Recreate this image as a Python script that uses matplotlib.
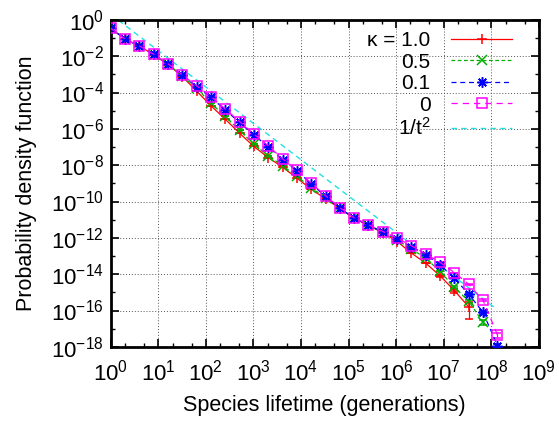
"""Species lifetime distribution for several kappa values, log-log."""
import numpy as np
import matplotlib
matplotlib.use('Agg')
import matplotlib.pyplot as plt
from matplotlib.ticker import LogLocator, FixedLocator, NullFormatter

plt.rcParams['font.family'] = ['Liberation Sans', 'DejaVu Sans']
plt.rcParams['mathtext.fontset'] = 'custom'
plt.rcParams['mathtext.rm'] = 'Liberation Sans'
plt.rcParams['mathtext.it'] = 'Liberation Sans:italic'
plt.rcParams['axes.unicode_minus'] = False

# lifetime bins (generations), powers of two
t = [1, 2, 4, 8, 16, 32, 64, 128, 256, 512, 1024, 2048, 4096, 8192, 16384,
     32768, 65536, 131072, 262144, 524288, 1048576, 2097152, 4194304,
     8388608, 16777216, 33554432, 67108864, 134217728]

# log10 of the density
lg_k0 = [-0.46, -1.06, -1.43, -1.89, -2.42, -3.03, -3.63, -4.22, -4.91, -5.60,
         -6.29, -6.93, -7.65, -8.25, -8.99, -9.68, -10.34, -10.90, -11.28,
         -11.65, -12.01, -12.44, -12.88, -13.35, -13.91, -14.56, -15.43, -17.33]
lg_k01 = [-0.46, -1.06, -1.44, -1.90, -2.44, -3.06, -3.67, -4.27, -4.96, -5.65,
          -6.34, -6.98, -7.70, -8.30, -9.03, -9.72, -10.37, -10.92, -11.30,
          -11.68, -12.05, -12.48, -12.92, -13.48, -14.22, -15.10, -16.10, -17.93]
lg_k05 = [-0.46, -1.06, -1.44, -1.91, -2.44, -3.08, -3.76, -4.59, -5.32, -6.09,
          -6.84, -7.48, -8.03, -8.60, -9.25, -9.78, -10.36, -10.91, -11.30,
          -11.69, -12.10, -12.61, -13.12, -13.85, -14.71, -15.50, -16.64]
lg_k1 = [-0.46, -1.06, -1.44, -1.92, -2.46, -3.12, -3.92, -4.73, -5.47, -6.24,
         -6.97, -7.58, -8.11, -8.71, -9.32, -9.85, -10.38, -10.92, -11.32,
         -11.72, -12.20, -12.84, -13.39, -14.09, -14.90, -15.80]

# error bars only visible in the tail, as a fraction of the value
rel_k1 = [0] * 23 + [0.15, 0.25, 0.78]
rel_k05 = [0] * 24 + [0.15, 0.2, 0.3]
rel_k01 = [0] * 25 + [0.15, 0.2, 0.3]
rel_k0 = [0] * 25 + [0.1, 0.15, 0.3]

# reference line 1/t^2 (drawn with a factor 2), two ends
ref_t = [1, 1.32e8]
ref_p = [2.0, 1.15e-16]

series = [
    ('κ = 1.0', lg_k1, rel_k1, '#ff0000', '-', '+', 7.5, None),
    ('0.5', lg_k05, rel_k05, '#00b000', (0, (3, 2)), 'x', 6.5, None),
    ('0.1', lg_k01, rel_k01, '#0000ff', (0, (4, 3)), (8, 2, 0), 7.5, None),
    ('0', lg_k0, rel_k0, '#ff00ff', (0, (5, 4)), 's', 7, 'none'),
]

fig = plt.figure(figsize=(5.59, 4.22), dpi=100)
ax = fig.add_axes([0.198, 0.178, 0.766, 0.775])

handles = []
for lab, lg, rel, col, ls, mk, ms, mfc in series:
    x = np.array(t[:len(lg)], float)
    y = 10.0 ** np.array(lg)
    err = y * np.array(rel)
    c = ax.errorbar(x, y, yerr=err, color=col, ls=ls, lw=0.9, marker=mk, ms=ms,
                    mew=1.1, mfc=mfc if mfc else col, capsize=3, elinewidth=0.9,
                    zorder=3)
    handles.append((c.lines[0], lab))
h_ref, = ax.plot(ref_t, ref_p, color='#22e0e0', ls=(0, (4, 3)), lw=1.0, zorder=2)
handles.append((h_ref, '1/t$^2$'))

ax.set_xscale('log')
ax.set_yscale('log')
ax.set_xlim(1, 1e9)
ax.set_ylim(1e-18, 1)

ax.xaxis.set_major_locator(LogLocator(base=10, numticks=20))
ax.xaxis.set_minor_locator(LogLocator(base=10, subs=(2, 5), numticks=20))
ax.xaxis.set_minor_formatter(NullFormatter())
ax.yaxis.set_major_locator(FixedLocator([10.0 ** -e for e in range(0, 19, 2)]))
ax.yaxis.set_minor_locator(FixedLocator([10.0 ** -e for e in range(1, 18, 2)]))
ax.yaxis.set_minor_formatter(NullFormatter())

ax.grid(True, which='major', color='#555555', ls=(0, (1, 2)), lw=0.7)
ax.tick_params(which='both', direction='in', top=True, right=True, labelsize=16)
ax.tick_params(axis='x', pad=9)
ax.tick_params(axis='y', pad=5)
ax.tick_params(which='major', length=6, width=1.2)
ax.tick_params(which='minor', length=3, width=1.0)
for s in ax.spines.values():
    s.set_linewidth(2)

ax.set_xlabel('Species lifetime (generations)', fontsize=15.5, labelpad=7)
ax.set_ylabel('Probability density function', fontsize=15.5, labelpad=10)

ax.legend([h for h, _ in handles], [l for _, l in handles], loc='upper right',
          bbox_to_anchor=(0.966, 1.004), frameon=False, markerfirst=False,
          fontsize=15, handlelength=2.9, handletextpad=1.0, labelspacing=0.12,
          borderaxespad=0.2)

fig.savefig('out.png', dpi=100)
